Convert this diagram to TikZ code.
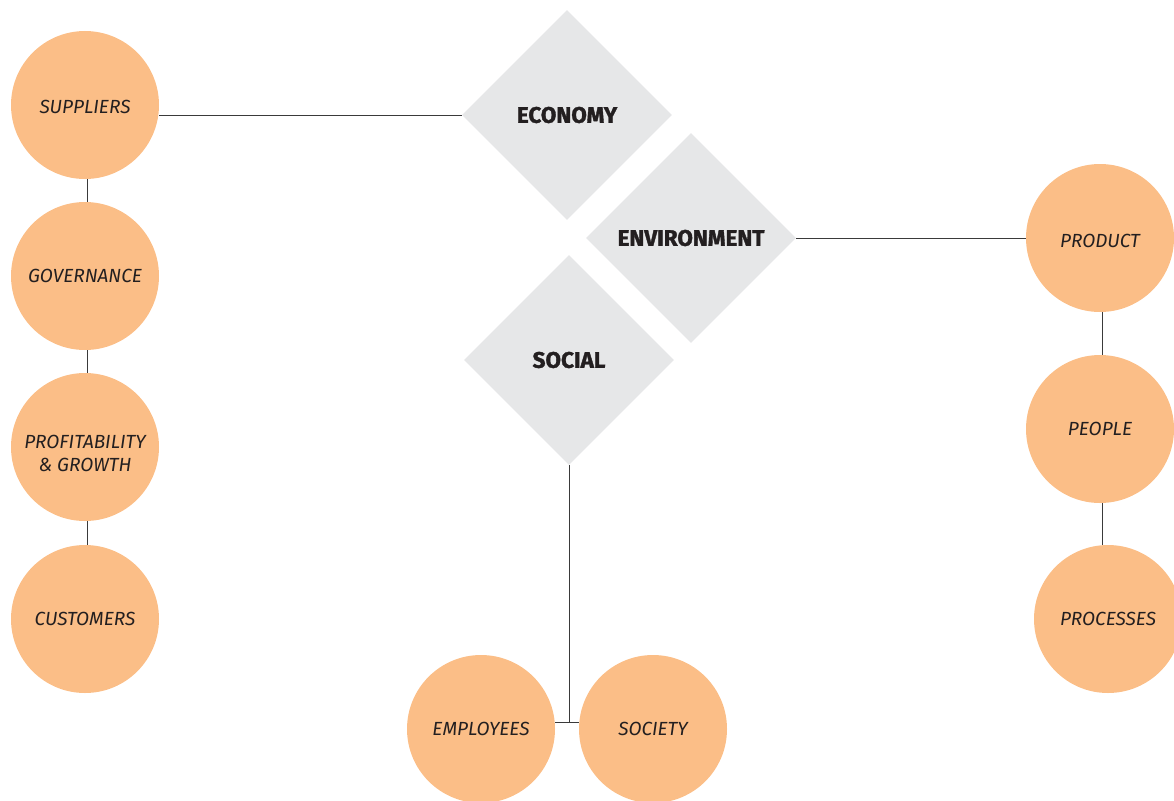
\documentclass[tikz,border=0pt]{standalone}
\usepackage{fontspec}
\setmainfont{Fira Sans}
\newfontfamily\heavyfont{Fira Sans}[FakeBold=1.6]
\usetikzlibrary{shapes.geometric}
\definecolor{orangefill}{HTML}{FBBE87}
\definecolor{diagray}{HTML}{E6E7E8}
\definecolor{ink}{HTML}{231F20}
\definecolor{linec}{HTML}{3A3A3A}
\tikzset{
  bubble/.style={circle, fill=orangefill, minimum size=148pt, inner sep=0pt,
    text=ink, font=\fontsize{19}{23}\selectfont\itshape, align=center},
  bubtext/.style={inner sep=0pt, text=ink, font=\fontsize{19}{23}\selectfont\itshape, align=center},
  pillar/.style={diamond, fill=diagray, minimum width=210pt, minimum height=210pt,
    inner sep=0pt, text=ink, font=\fontsize{22.5}{26}\heavyfont\bfseries},
  link/.style={draw=linec, line width=0.9pt}
}
\begin{document}
\begin{tikzpicture}[x=1pt,y=-1pt]
\useasboundingbox (0,0) rectangle (1174,800);
% diamonds
\node[pillar] (eco) at (567,115) {ECONOMY};
\node[pillar] (env) at (691,238) {ENVIRONMENT};
\node[pillar] (soc) at (569,360) {SOCIAL};
% left column
\node[bubble, label={[bubtext, yshift=-2pt]center:SUPPLIERS}] (sup) at (85,105) {};
\node[bubble] (gov) at (85,276) {GOVERNANCE};
\node[bubble, label={[bubtext, yshift=-6pt]center:PROFITABILITY\\\& GROWTH}] (pro) at (85,447) {};
\node[bubble] (cus) at (85,619) {CUSTOMERS};
% right column
\node[bubble, label={[bubtext, yshift=-3pt]center:PRODUCT}] (prd) at (1100,238) {};
\node[bubble] (peo) at (1100,429) {PEOPLE};
\node[bubble] (prc) at (1108,619) {PROCESSES};
% bottom
\node[bubble] (emp) at (481,729) {EMPLOYEES};
\node[bubble] (scy) at (653,729) {SOCIETY};
\coordinate (join) at (soc.south |- 0,722);
% connectors
\draw[link] (eco.west) -- (eco.west -| sup.east);
\draw[link] (sup.south -| 87,0) -- (gov.north -| 87,0);
\draw[link] (gov.south -| 87,0) -- (pro.north -| 87,0);
\draw[link] (pro.south -| 87,0) -- (cus.north -| 87,0);
\draw[link] (env.east) -- (prd.west);
\draw[link] (prd.south -| 1102,0) -- (peo.north -| 1102,0);
\draw[link] (peo.south -| 1102,0) -- (prc.north -| 1102,0);
\draw[link] (soc.south) -- (join);
\draw[link] (join -| emp.east) -- (join -| scy.west);
\end{tikzpicture}
\end{document}
